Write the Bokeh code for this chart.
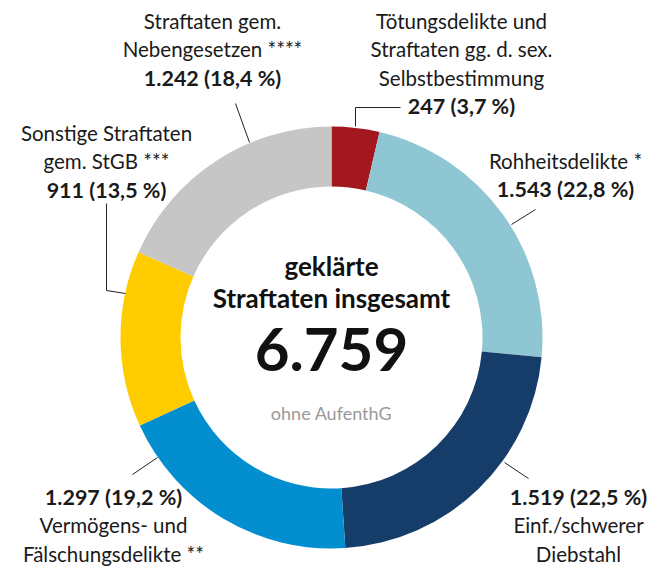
import math
from bokeh.plotting import figure
from bokeh.models import Range1d
from bokeh.core.properties import value
from bokeh.embed import file_html
from bokeh.resources import INLINE

# ---- data ----
categories = [
    "Tötungsdelikte und Straftaten gg. d. sex. Selbstbestimmung",
    "Rohheitsdelikte *",
    "Einf./schwerer Diebstahl",
    "Vermögens- und Fälschungsdelikte **",
    "Sonstige Straftaten gem. StGB ***",
    "Straftaten gem. Nebengesetzen ****",
]
values = [247, 1543, 1519, 1297, 911, 1242]
name_lines = [
    ["Tötungsdelikte und", "Straftaten gg. d. sex.", "Selbstbestimmung"],
    ["Rohheitsdelikte *"],
    ["Einf./schwerer", "Diebstahl"],
    ["Vermögens- und", "Fälschungsdelikte **"],
    ["Sonstige Straftaten", "gem. StGB ***"],
    ["Straftaten gem.", "Nebengesetzen ****"],
]
colors = ["#A3181F", "#8FC6D3", "#163C69", "#038FCF", "#FFCC00", "#C6C6C6"]
center_title = ["geklärte", "Straftaten insgesamt"]
center_note = "ohne AufenthG"

# ---- layout (image pixel coordinates) ----
W, H = 662, 566
CX, CY = 331, 337
R_OUT, R_IN = 211, 151
# label anchor: x, first line y, value line on top?
label_layout = [
    (461, 20, False),
    (565, 160, False),
    (578, 496, True),
    (113, 496, True),
    (106, 132, False),
    (212, 20, False),
]
LINE_H = 28.5
leaders = [
    [(355, 126), (355, 107), (400, 107)],
    [(511, 224), (535, 209)],
    [(504, 462), (528, 478)],
    [(157, 457), (132, 474)],
    [(125, 293), (106, 290), (106, 203)],
    [(249, 142), (235, 103)],
]

def X(px):
    return px - CX

def Y(py):
    return CY - py

def de_num(n):
    return f"{n:,}".replace(",", ".")

total = sum(values)
fracs = [v / total for v in values]
starts, ends = [], []
cum = 0.0
for f in fracs:
    starts.append(math.pi / 2 - 2 * math.pi * cum)
    cum += f
    ends.append(math.pi / 2 - 2 * math.pi * cum)

FONT = "Lato"

p = figure(width=W, height=H, output_backend="svg", toolbar_location=None,
           x_range=Range1d(X(0), X(W)), y_range=Range1d(Y(H), Y(0)),
           min_border=0, match_aspect=False)
p.axis.visible = False
p.grid.visible = False
p.outline_line_color = None
p.background_fill_color = "white"
p.border_fill_color = "white"

p.annular_wedge(x=0, y=0, inner_radius=R_IN, outer_radius=R_OUT,
                start_angle=starts, end_angle=ends, direction="clock",
                color=colors, line_color=None)

# leaders
p.multi_line(xs=[[X(a) for a, b in L] for L in leaders],
             ys=[[Y(b) for a, b in L] for L in leaders],
             line_color="#222222", line_width=1)

# labels
nx, ny, nt = [], [], []
bx, by, bt = [], [], []
for i, (lx, ly, val_first) in enumerate(label_layout):
    pct = f"{fracs[i]*100:.1f}".replace(".", ",")
    vtxt = f"{de_num(values[i])} ({pct} %)"
    lines = name_lines[i]
    if val_first:
        bx.append(X(lx)); by.append(Y(ly)); bt.append(vtxt)
        for k, ln in enumerate(lines):
            nx.append(X(lx)); ny.append(Y(ly + (k + 1) * LINE_H)); nt.append(ln)
    else:
        for k, ln in enumerate(lines):
            nx.append(X(lx)); ny.append(Y(ly + k * LINE_H)); nt.append(ln)
        bx.append(X(lx)); by.append(Y(ly + len(lines) * LINE_H)); bt.append(vtxt)

p.text(x=nx, y=ny, text=nt, text_font=value(FONT), text_font_size="20.5px",
       text_align="center", text_baseline="middle", text_color="#1a1a1a")
p.text(x=bx, y=by, text=bt, text_font=value(FONT), text_font_size="21.5px",
       text_font_style="bold", text_align="center", text_baseline="middle",
       text_color="#1a1a1a")

# center
p.text(x=[0, 0], y=[Y(265), Y(297)], text=center_title, text_font=value(FONT),
       text_font_size="26px", text_font_style="bold", text_align="center",
       text_baseline="middle", text_color="#111111")
p.text(x=[0], y=[Y(349)], text=[de_num(total)], text_font=value(FONT),
       text_font_size="60px", text_font_style="bold", text_align="center",
       text_baseline="middle", text_color="#111111")
p.text(x=[0], y=[Y(412)], text=[center_note], text_font=value(FONT),
       text_font_size="18px", text_align="center", text_baseline="middle",
       text_color="#9a9a9a")

open("out.html", "w").write(file_html(p, INLINE))
